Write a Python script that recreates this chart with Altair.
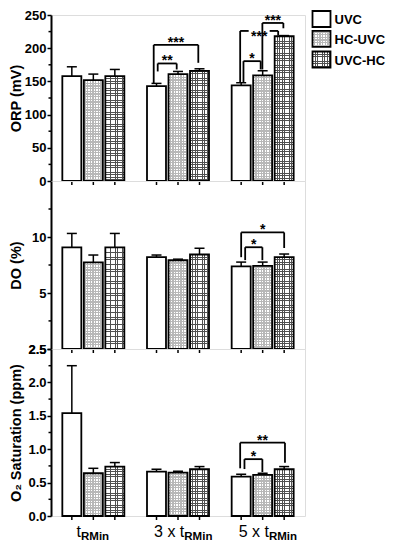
import math
import altair as alt
import pandas as pd

# ---------------- data ----------------
groups = ["tRMin", "3 x tRMin", "5 x tRMin"]
label_main = ["t", "3 x t", "5 x t"]
label_sub = ["RMin", "RMin", "RMin"]
series = ["UVC", "HC-UVC", "UVC-HC"]

orp_mean = [[158, 152, 158], [143, 161, 166], [144, 159, 218]]
orp_err = [[14, 9, 10], [4, 4, 3], [4, 7, 1]]
do_mean = [[8.8, 7.3, 8.8], [7.8, 7.5, 8.05], [6.96, 7.0, 7.8]]
do_err = [[1.65, 0.7, 1.65], [0.2, 0.1, 0.65], [0.37, 0.33, 0.3]]
o2_mean = [[1.54, 0.64, 0.74], [0.664, 0.65, 0.70], [0.59, 0.615, 0.70]]
o2_err = [[0.71, 0.074, 0.06], [0.036, 0.02, 0.04], [0.035, 0.025, 0.04]]

orp_ticks = [0, 50, 100, 150, 200, 250]
orp_minor = [25, 75, 125, 175, 225]
do_ticks = [2.5, 5, 10]
do_minor = [3.54, 7.07, 14.14]
o2_ticks = [0, 0.5, 1.0, 1.5, 2.0, 2.5]
o2_minor = [0.25, 0.75, 1.25, 1.75, 2.25]

# significance brackets: group, from series, to series, level, left leg end, right leg end, label, left dx, right dx, inline
orp_brackets = [
    (1, 0, 1, 177, 165, 168, "**", 1.2, -1.3, False),
    (1, 0, 2, 205, 147, 178, "***", -2.8, -1.2, False),
    (2, 0, 1, 180.5, 149, 168, "*", 2.3, -2.0, False),
    (2, 0, 2, 226, 149, 219, "***", -1.0, -6.0, True),
    (2, 1, 2, 238, 168, 230, "***", -0.3, -0.8, False),
]
do_brackets = [
    (2, 0, 1, 8.81, 7.51, 7.51, "*", 4.0, -0.3, False),
    (2, 0, 2, 10.58, 7.79, 8.73, "*", 0.0, 0.0, False),
]
o2_brackets = [
    (2, 0, 1, 0.851, 0.703, 0.659, "*", 3.3, -0.3, False),
    (2, 0, 2, 1.097, 0.714, 0.796, "**", -1.0, 0.8, False),
]

# ---------------- layout ----------------
W = 254
PXU = W / 3.0
OFF = 21.5 / PXU
HALF = 9.5 / PXU
CAP = 5.0 / PXU
FONT = "Liberation Sans"


def center(g, j):
    return g + 0.5 + (j - 1) * OFF


def stripes(length, period, width, line, gap, along_x):
    stops = []
    k = 0
    while k * period < length - 1e-9:
        a = k * period / length
        b = min((k * period + width) / length, 1.0)
        n = min((k + 1) * period / length, 1.0)
        stops += [{"offset": a, "color": line}, {"offset": b, "color": line},
                  {"offset": b, "color": gap}, {"offset": n, "color": gap}]
        k += 1
    return {"gradient": "linear", "x1": 0, "y1": 0,
            "x2": 1 if along_x else 0, "y2": 0 if along_x else 1,
            "stops": stops}


PAT = {1: dict(period=1.6, width=0.8, color="#b8b8b8"),
       2: dict(period=2.4, width=0.75, color="#505050")}
CLEAR = "rgba(255,255,255,0)"

X = lambda f: alt.X(f, type="quantitative", scale=alt.Scale(domain=[0, 3], nice=False), axis=None)
X2 = lambda f: alt.X2(f)


def panel(mean, err, brackets, scale, axis, minor, H, lo, hi, log=False, top=False, bottom=False):
    def px(v):
        if log:
            return (math.log(v) - math.log(lo)) / (math.log(hi) - math.log(lo)) * H
        return (v - lo) / (hi - lo) * H

    rows = []
    for g in range(3):
        for j in range(3):
            c = center(g, j)
            rows.append(dict(g=g, j=j, pos=c, x1=c - HALF, x2=c + HALF,
                             c1=c - CAP, c2=c + CAP, mean=mean[g][j],
                             top=mean[g][j] + err[g][j], lo=lo))
    df = pd.DataFrame(rows)
    Y = lambda f: alt.Y(f, type="quantitative", scale=scale, axis=axis)
    base = alt.Chart(df)
    layers = []
    # white bars with outline (UVC) and textured bars
    layers.append(base.transform_filter(alt.datum.j == 0).mark_rect(
        fill="white", stroke="black", strokeWidth=1.8
    ).encode(x=X("x1"), x2=X2("x2"), y=Y("lo"), y2=alt.Y2("mean")))
    for j in (1, 2):
        p = PAT[j]
        for g in range(3):
            hpx = px(mean[g][j])
            layers.append(base.transform_filter((alt.datum.j == j) & (alt.datum.g == g)).mark_rect(
                fill=stripes(hpx, p["period"], p["width"], p["color"], "white", False)
            ).encode(x=X("x1"), x2=X2("x2"), y=Y("lo"), y2=alt.Y2("mean")))
        layers.append(base.transform_filter(alt.datum.j == j).mark_rect(
            fill=stripes(19, p["period"], p["width"], p["color"], CLEAR, True),
            stroke="black", strokeWidth=1.8
        ).encode(x=X("x1"), x2=X2("x2"), y=Y("lo"), y2=alt.Y2("mean")))
    # error bars
    layers.append(base.mark_rule(color="black", strokeWidth=1.5).encode(
        x=X("pos"), y=Y("mean"), y2=alt.Y2("top")))
    layers.append(base.mark_rule(color="black", strokeWidth=1.5).encode(
        x=X("c1"), x2=X2("c2"), y=Y("top")))
    # x ticks below panel
    layers.append(base.mark_rule(color="black", strokeWidth=1.5).encode(
        x=X("pos"), y=alt.value(H), y2=alt.value(H + 4)))
    # minor y ticks
    mdf = pd.DataFrame({"m": minor})
    layers.append(alt.Chart(mdf).mark_rule(color="black", strokeWidth=1.5).encode(
        y=Y("m"), x=alt.value(0), x2=alt.value(-2.5)))
    # brackets
    if brackets:
        hs, legs, labs = [], [], []
        for (g, a, b, lev, lb, rb, lab, dxl, dxr, inline) in brackets:
            xl = center(g, a) + dxl / PXU
            xr = center(g, b) + dxr / PXU
            mid = (xl + xr) / 2
            if inline:
                gap = 10.5 / PXU
                hs.append(dict(xa=xl, xb=mid - gap, y=lev))
                hs.append(dict(xa=mid + gap, xb=xr, y=lev))
            else:
                hs.append(dict(xa=xl, xb=xr, y=lev))
            legs.append(dict(x=xl, y=lev, y2=lb))
            legs.append(dict(x=xr, y=lev, y2=rb))
            labs.append(dict(x=mid, y=lev, t=lab, inline=int(inline)))
        layers.append(alt.Chart(pd.DataFrame(hs)).mark_rule(color="black", strokeWidth=1.8).encode(
            x=X("xa"), x2=X2("xb"), y=Y("y")))
        layers.append(alt.Chart(pd.DataFrame(legs)).mark_rule(color="black", strokeWidth=1.8).encode(
            x=X("x"), y=Y("y"), y2=alt.Y2("y2")))
        ldf = pd.DataFrame(labs)
        for inl, dy in ((0, 2), (1, 10.5)):
            layers.append(alt.Chart(ldf).transform_filter(alt.datum.inline == inl).mark_text(
                font=FONT, fontSize=14, fontWeight="bold", baseline="alphabetic", dy=dy,
                color="black").encode(x=X("x"), y=Y("y"), text="t:N"))
    if top:
        ys = [4.0, 23.8, 44.5]
        for j in range(3):
            cy = ys[j]
            ldata = pd.DataFrame({"s": [series[j]]})
            lc = alt.Chart(ldata)
            if j > 0:
                p = PAT[j]
                layers.append(lc.mark_rect(
                    fill=stripes(16, p["period"], p["width"], p["color"], "white", False)
                ).encode(x=alt.value(261.5), x2=alt.value(279.5), y=alt.value(cy - 8), y2=alt.value(cy + 8)))
                f = stripes(18, p["period"], p["width"], p["color"], CLEAR, True)
            else:
                f = "white"
            layers.append(lc.mark_rect(fill=f, stroke="black", strokeWidth=1.8).encode(
                x=alt.value(261.5), x2=alt.value(279.5), y=alt.value(cy - 8), y2=alt.value(cy + 8)))
            layers.append(lc.mark_text(font=FONT, fontSize=13, fontWeight="bold", align="left",
                                       baseline="middle", color="black").encode(
                x=alt.value(283.5), y=alt.value(cy + 1), text="s:N"))
    if bottom:
        offs = [-12.3, 6.3, 6.3]
        tdf = pd.DataFrame({"x": [g + 0.5 + offs[g] / PXU for g in range(3)],
                            "m": label_main, "s": label_sub})
        tc = alt.Chart(tdf)
        layers.append(tc.mark_text(font=FONT, fontSize=16, align="right", baseline="alphabetic",
                                   color="black").encode(x=X("x"), y=alt.value(H + 21), text="m:N"))
        layers.append(tc.mark_text(font=FONT, fontSize=11.5, fontWeight="bold", align="left",
                                   baseline="alphabetic", color="black").encode(
            x=X("x"), y=alt.value(H + 24), text="s:N"))
    return alt.layer(*layers).properties(width=W, height=H)


axis_common = dict(domainColor="black", domainWidth=2, tickColor="black", tickWidth=1.5,
                   tickSize=4, labelFont=FONT, labelFontWeight="bold", labelFontSize=13,
                   labelColor="black", labelPadding=1, titleFont=FONT, titleFontWeight="bold",
                   titleFontSize=14.5, titleColor="black", titleX=-27.5, titleBaseline="bottom",
                   grid=False)

p1 = panel(orp_mean, orp_err, orp_brackets,
           alt.Scale(domain=[0, 250], nice=False, zero=True),
           alt.Axis(values=orp_ticks, format="d", title="ORP (mV)", **axis_common),
           orp_minor, 166, 0, 250, top=True)
p2 = panel(do_mean, do_err, do_brackets,
           alt.Scale(type="log", base=2, domain=[2.5, 20], nice=False),
           alt.Axis(values=do_ticks, labelExpr="'' + datum.value", title="DO (%)", **axis_common),
           do_minor, 168, 2.5, 20, log=True)
p3 = panel(o2_mean, o2_err, o2_brackets,
           alt.Scale(domain=[0, 2.5], nice=False, zero=True),
           alt.Axis(values=o2_ticks, format=".1f", title="O\u2082 Saturation (ppm)", **axis_common),
           o2_minor, 167, 0, 2.5, bottom=True)

chart = alt.vconcat(p1, p2, p3, spacing=0, bounds="flush").properties(
    padding={"left": 0, "top": 0, "right": 0, "bottom": 0}
).configure_view(stroke="black", strokeWidth=2).configure(background="white")

chart.save("out.html", embed_options={"renderer": "svg", "actions": False})
